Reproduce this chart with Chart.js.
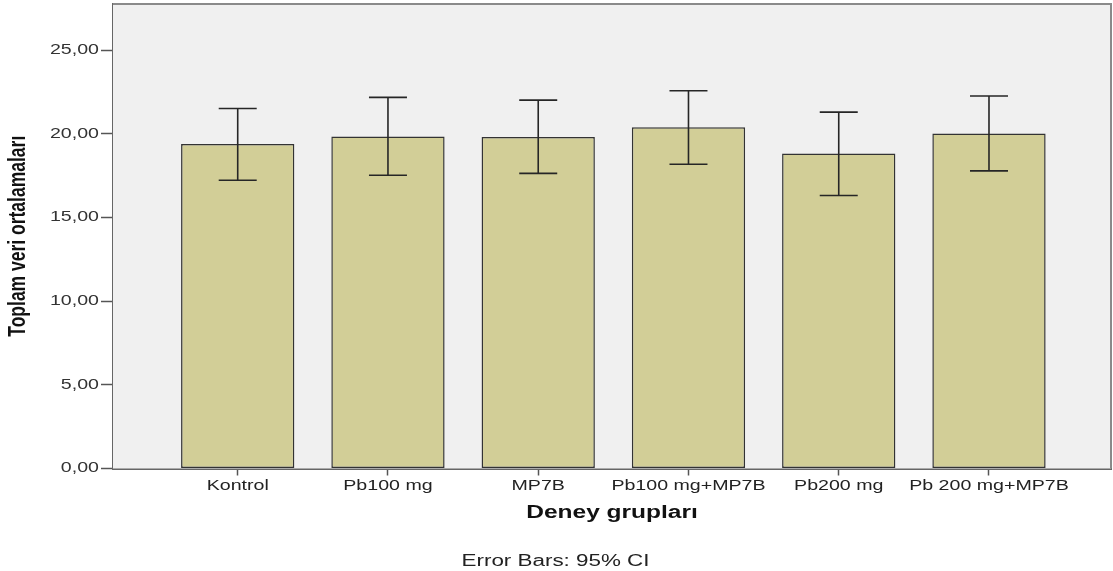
<!DOCTYPE html>
<html>
<head>
<meta charset="utf-8">
<script src="https://cdn.jsdelivr.net/npm/chart.js@4/dist/chart.umd.min.js"></script>
<style>
  html, body { margin: 0; padding: 0; background: #ffffff; }
  #wrap { width: 1113px; height: 571px; }
</style>
</head>
<body>
<div id="wrap"><canvas id="c" width="1113" height="571"></canvas></div>
<script>
// Group names along the x axis
const categories = ['Kontrol', 'Pb100 mg', 'MP7B', 'Pb100 mg+MP7B', 'Pb200 mg', 'Pb 200 mg+MP7B'];
// Group means
const means = [19.38, 19.84, 19.81, 20.38, 18.82, 20.02];
// 95% confidence interval bounds
const ciLow = [17.22, 17.52, 17.63, 18.18, 16.31, 17.78];
const ciHigh = [21.51, 22.17, 22.01, 22.57, 21.29, 22.25];
// Value axis ticks
const yTicks = [0, 5, 10, 15, 20, 25];

const FONT = "'Liberation Sans', Arial, sans-serif";
const TEXT_STRETCH = 1.4;

// Wide SPSS-style lettering: stretch every label horizontally around its anchor
const stretchText = {
  id: 'stretchText',
  beforeDraw(chart) {
    const ctx = chart.ctx;
    if (ctx._plainFillText) return;
    const plain = ctx.fillText;
    ctx._plainFillText = plain;
    ctx.fillText = function (text, x, y, maxWidth) {
      const m = this.getTransform();
      const p = m.transformPoint(new DOMPoint(x, y));
      this.save();
      this.setTransform(new DOMMatrix().translate(p.x, p.y).scale(TEXT_STRETCH, 1).translate(-p.x, -p.y).multiply(m));
      if (maxWidth === undefined) plain.call(this, text, x, y);
      else plain.call(this, text, x, y, maxWidth);
      this.restore();
    };
  }
};

// Grey plot panel with a frame
const plotPanel = {
  id: 'plotPanel',
  beforeDatasetsDraw(chart) {
    const { ctx, chartArea: a } = chart;
    ctx.save();
    ctx.fillStyle = '#f0f0f0';
    ctx.fillRect(a.left, a.top, a.right - a.left, a.bottom - a.top);
    ctx.strokeStyle = '#8a8a8a';
    ctx.lineWidth = 2;
    ctx.beginPath();
    ctx.moveTo(a.left, a.top);
    ctx.lineTo(a.right, a.top);
    ctx.lineTo(a.right, a.bottom);
    ctx.stroke();
    ctx.restore();
  }
};

// 95% CI whiskers drawn through the scales
const ciWhiskers = {
  id: 'ciWhiskers',
  afterDatasetsDraw(chart) {
    const { ctx, scales: { x, y } } = chart;
    const half = 19;
    ctx.save();
    ctx.strokeStyle = '#262626';
    ctx.lineWidth = 1.6;
    categories.forEach((_, i) => {
      const px = x.getPixelForValue(i);
      const top = y.getPixelForValue(ciHigh[i]);
      const bot = y.getPixelForValue(ciLow[i]);
      ctx.beginPath();
      ctx.moveTo(px, top); ctx.lineTo(px, bot);
      ctx.moveTo(px - half, top); ctx.lineTo(px + half, top);
      ctx.moveTo(px - half, bot); ctx.lineTo(px + half, bot);
      ctx.stroke();
    });
    ctx.restore();
  }
};

new Chart(document.getElementById('c'), {
  type: 'bar',
  data: {
    datasets: [{
      data: means.map((v, i) => ({ x: i, y: v })),
      backgroundColor: '#d2ce97',
      borderColor: '#333333',
      borderWidth: 1.5,
      borderSkipped: false,
      barPercentage: 0.754,
      categoryPercentage: 1
    }]
  },
  options: {
    responsive: false,
    animation: false,
    layout: { padding: { top: 4, right: 2, left: 0, bottom: 0 } },
    plugins: {
      legend: { display: false },
      tooltip: { enabled: false },
      title: {
        display: true,
        position: 'bottom',
        text: 'Error Bars: 95% CI',
        color: '#222222',
        font: { family: FONT, size: 16, weight: 'normal' },
        padding: { top: 0, bottom: 0 }
      }
    },
    scales: {
      x: {
        type: 'linear',
        offset: false,
        min: -0.830,
        max: 5.812,
        afterBuildTicks(scale) { scale.ticks = categories.map((_, i) => ({ value: i })); },
        afterFit(scale) {
          scale.height = 83.3;
          scale.paddingLeft = 0;
          scale.paddingRight = 0;
        },
        ticks: {
          autoSkip: false,
          maxRotation: 0,
          padding: 2,
          color: '#222222',
          font: { family: FONT, size: 14 },
          callback: (v) => categories[v]
        },
        grid: { offset: false, drawOnChartArea: false, drawTicks: true, tickLength: 7, tickColor: '#555555', tickWidth: 1.5 },
        border: { display: true, color: '#666666', width: 2 },
        title: {
          display: true,
          text: 'Deney grupları',
          color: '#111111',
          font: { family: FONT, size: 17.5, weight: 'bold' },
          padding: { top: 0, bottom: 28 }
        }
      },
      y: {
        min: 0,
        max: 27.75,
        afterBuildTicks(scale) { scale.ticks = yTicks.map((v) => ({ value: v })); },
        afterFit(scale) {
          scale.width = 113;
          scale.paddingTop = 0;
          scale.paddingBottom = 0;
        },
        ticks: {
          padding: 2,
          color: '#333333',
          font: { family: FONT, size: 14 },
          callback: (v) => v.toFixed(2).replace('.', ',')
        },
        grid: { drawOnChartArea: false, drawTicks: true, tickLength: 12, tickColor: '#555555', tickWidth: 1.5 },
        border: { display: true, color: '#666666', width: 2 },
        title: {
          display: true,
          text: 'Toplam veri ortalamaları',
          color: '#111111',
          font: { family: FONT, size: 17.5, weight: 'bold' },
          padding: { top: 8, bottom: 0 }
        }
      }
    }
  },
  plugins: [stretchText, plotPanel, ciWhiskers]
});
</script>
</body>
</html>
